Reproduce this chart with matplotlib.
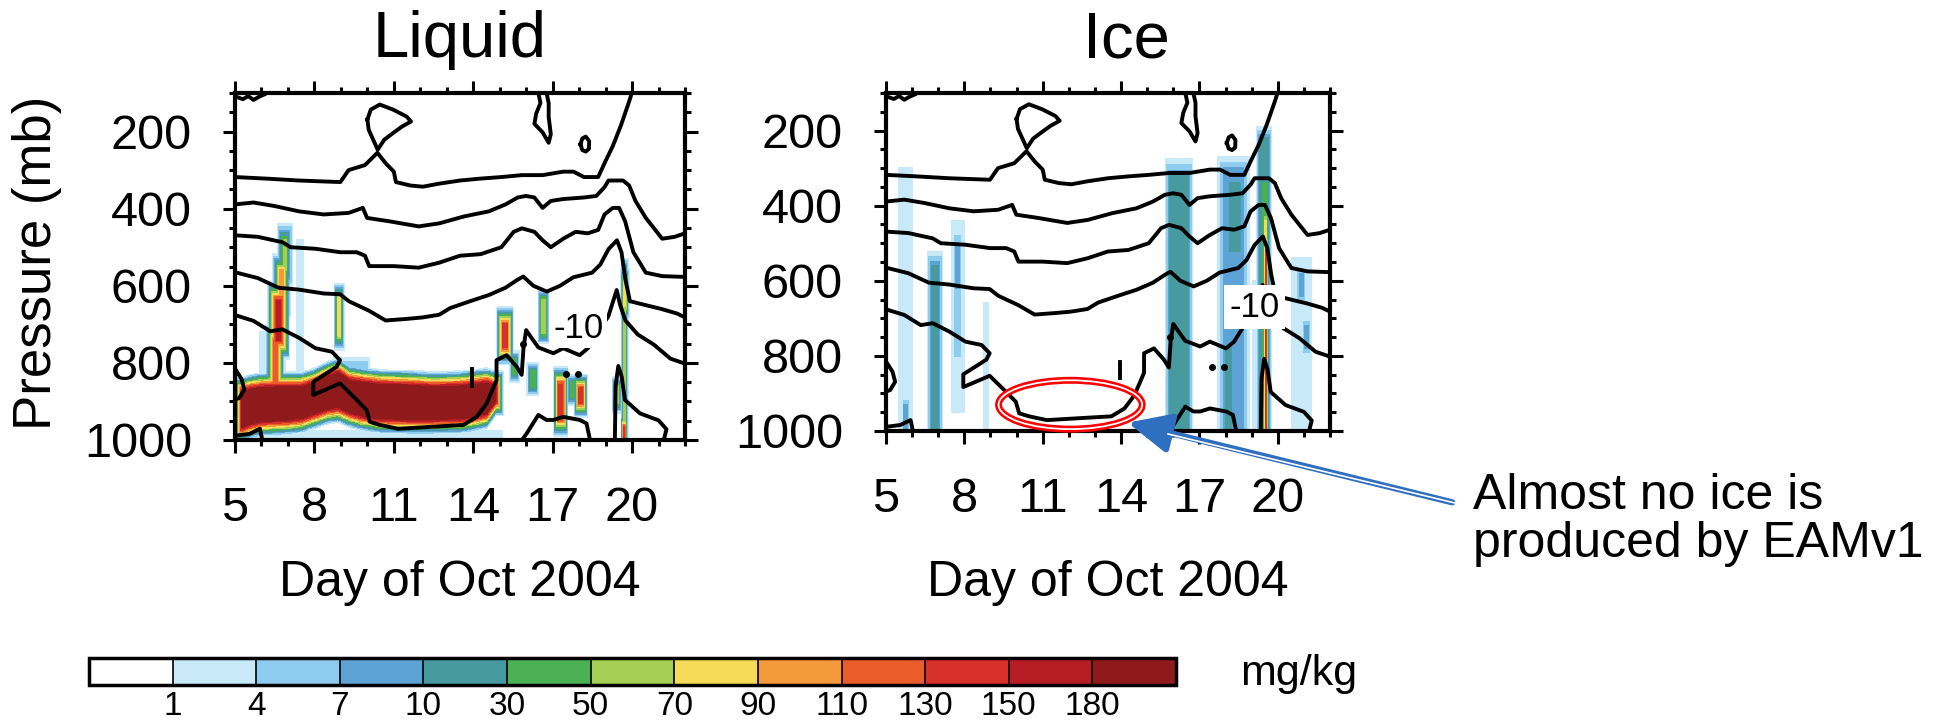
# Liquid / ice water content (EAMv1) vs pressure and day, with isotherms

import matplotlib.pyplot as plt
import numpy as np
from matplotlib import font_manager
from matplotlib.patches import Ellipse, FancyArrowPatch
from matplotlib.ticker import MultipleLocator
from matplotlib.lines import Line2D

plt.rcParams['font.family'] = ['Liberation Sans', 'DejaVu Sans']
installed = {f.name for f in font_manager.fontManager.ttflist}
tick_font = 'Liberation Sans Narrow' if 'Liberation Sans Narrow' in installed else 'Liberation Sans'

# colour classes (mg/kg)
levels = [0, 1, 4, 7, 10, 30, 50, 70, 90, 110, 130, 150, 180, 1000]
colors = ['#ffffff', '#c7e9f8', '#8fcdf0', '#5da3d6', '#479a9d', '#4bb051', '#a3cf55',
          '#f5db57', '#f39a3a', '#ea5c2a', '#d8302a', '#b81d25', '#8f1a1b']
tick_vals = [1, 4, 7, 10, 30, 50, 70, 90, 110, 130, 150, 180]

# one value per colour class, from the core outwards
ring_values = [200, 160, 140, 120, 100, 80, 60, 40, 20, 8, 5, 2]

# low stratocumulus deck in the liquid panel (core = >180 mg/kg)
deck_days = [5.25, 5.6, 6.0, 6.5, 7.0, 7.5, 8.0, 8.5, 8.9, 9.3, 9.8, 10.5, 11.5, 12.5, 13.5, 14.0, 14.5, 14.85]
deck_top = [876, 868, 864, 862, 862, 862, 852, 835, 825, 845, 850, 856, 858, 862, 860, 856, 852, 860]
deck_bot = [968, 958, 952, 950, 948, 944, 932, 920, 916, 928, 938, 945, 947, 947, 945, 940, 932, 898]

# other cloud features: (centre day, half width, p top, p bottom, core value, widen day, widen mb)
liquid_feats = [
    (6.88, 0.06, 480, 560, 60, 0.045, 8),
    (6.76, 0.07, 560, 640, 100, 0.04, 6),
    (6.64, 0.08, 640, 740, 160, 0.035, 5),
    (6.52, 0.08, 740, 860, 120, 0.035, 5),
    (7.45, 0.14, 480, 880, 2, 0, 0),
    (6.05, 0.10, 720, 990, 3, 0.04, 0),
    (8.93, 0.04, 630, 730, 80, 0.025, 6),
    (9.40, 0.60, 795, 830, 5, 0.08, 10),
    (10.2, 4.90, 975, 1000, 3, 0, 0),
    (15.20, 0.09, 700, 760, 140, 0.025, 5),
    (15.55, 0.07, 790, 830, 40, 0.03, 5),
    (16.25, 0.10, 820, 865, 40, 0.03, 5),
    (16.65, 0.05, 640, 720, 70, 0.025, 5),
    (17.30, 0.07, 860, 940, 150, 0.02, 5),
    (17.75, 0.05, 855, 885, 45, 0.03, 5),
    (18.05, 0.07, 865, 905, 140, 0.02, 4),
    (19.42, 0.03, 865, 900, 80, 0.025, 5),
    (19.72, 0.03, 560, 990, 60, 0.02, 6),
    (19.72, 0.02, 590, 650, 85, 0.02, 5),
    (19.70, 0.025, 965, 995, 140, 0.01, 3),
]

ice_feats = [
    (5.75, 0.27, 300, 1000, 2, 0, 0),
    (5.75, 0.08, 930, 1000, 8, 0.03, 10),
    (6.87, 0.12, 560, 1000, 20, 0.06, 12),
    (7.75, 0.25, 440, 950, 2, 0, 0),
    (7.73, 0.12, 480, 800, 5, 0.05, 10),
    (7.73, 0.05, 520, 610, 9, 0.04, 10),
    (8.82, 0.10, 660, 1000, 2, 0, 0),
    (16.22, 0.35, 320, 1000, 20, 0.06, 15),
    (18.30, 0.40, 300, 1000, 8, 0.10, 15),
    (18.35, 0.20, 340, 520, 15, 0.05, 10),
    (18.10, 0.10, 780, 1000, 15, 0.04, 10),
    (19.10, 0.06, 600, 1000, 2, 0, 0),
    (19.45, 0.17, 220, 1000, 20, 0.04, 10),
    (19.50, 0.08, 340, 1000, 40, 0.01, 10),
    (19.53, 0.04, 440, 1000, 75, 0.005, 10),
    (19.55, 0.02, 520, 1000, 140, 0.005, 10),
    (20.90, 0.40, 540, 1000, 2, 0, 0),
    (20.90, 0.08, 580, 640, 8, 0.05, 10),
    (21.10, 0.08, 720, 780, 8, 0.05, 10),
]

# temperature contours (day, pressure), identical in both panels
line_a = [(5.0, 318), (6.17, 322), (7.42, 327), (8.98, 331), (9.29, 300), (9.91, 287), (10.38, 255),
          (10.69, 282), (11.0, 304), (11.08, 331), (11.63, 340), (12.1, 343), (12.72, 335), (13.5, 327),
          (14.28, 322), (15.06, 318), (15.84, 313), (16.62, 313), (17.4, 304), (17.79, 304), (18.18, 318),
          (18.72, 318), (18.96, 282), (19.27, 238), (19.58, 184), (19.89, 122), (19.99, 100)]
line_b = [(5.0, 389), (5.7, 384), (6.48, 393), (7.42, 407), (8.35, 415), (9.29, 411), (9.83, 398),
          (9.99, 424), (10.85, 433), (11.94, 446), (12.72, 438), (13.66, 420), (14.59, 407), (15.22, 389),
          (15.68, 371), (15.99, 367), (16.31, 371), (16.62, 398), (16.93, 380), (17.4, 375), (18.18, 371),
          (18.65, 367), (18.96, 344), (19.11, 327), (19.66, 327), (19.89, 340), (20.13, 380), (20.52, 424),
          (21.14, 478), (21.61, 473), (22.0, 464)]
line_c = [(5.0, 469), (5.86, 473), (6.79, 487), (7.1, 500), (8.04, 504), (8.98, 513), (9.6, 513),
          (9.91, 522), (10.07, 549), (11.0, 549), (11.94, 553), (12.72, 540), (13.5, 522), (14.28, 518),
          (15.06, 500), (15.53, 460), (15.84, 451), (16.31, 460), (16.62, 482), (16.93, 500), (17.4, 478),
          (17.87, 460), (18.33, 464), (18.72, 455), (18.96, 415), (19.27, 398), (19.51, 398), (19.74, 433),
          (20.05, 513), (20.52, 566), (21.14, 575), (22.0, 577)]
line_d = [(5.0, 565), (5.86, 580), (6.64, 605), (7.42, 610), (8.35, 620), (8.97, 622), (9.3, 640),
          (10.07, 665), (10.69, 690), (11.47, 686), (12.1, 682), (12.72, 675), (13.12, 658), (13.97, 638),
          (14.59, 624), (15.22, 605), (15.68, 584), (15.89, 576), (16.27, 600), (16.78, 615), (17.28, 600),
          (17.78, 578), (18.49, 566), (18.8, 545), (19.11, 505), (19.43, 482), (19.6, 513), (19.75, 584),
          (19.92, 640), (20.5, 650), (21.1, 660), (21.7, 672), (22.0, 682)]
line_e = [(5.0, 676), (5.7, 691), (6.33, 718), (6.79, 713), (7.42, 735), (8.04, 762), (8.66, 771),
          (8.97, 793), (8.84, 810), (8.46, 827), (7.96, 849), (7.96, 883), (8.97, 853), (9.6, 896),
          (9.97, 922), (10.1, 953), (10.48, 961), (11.16, 971), (12.37, 966), (13.63, 961), (14.13, 940),
          (14.51, 905), (14.88, 845), (14.88, 793), (15.26, 780), (15.64, 810), (15.83, 831), (15.9, 760),
          (16.0, 715), (16.2, 735), (16.46, 760), (17.03, 775), (17.4, 762), (18.02, 780), (18.33, 762),
          (18.8, 709), (19.1, 680), (19.42, 611), (19.55, 650), (19.75, 690), (20.21, 726), (20.83, 753),
          (21.45, 789), (22.0, 802)]
loop_top1 = [(10.0, 169), (10.13, 143), (10.47, 130), (10.97, 143), (11.48, 161), (11.65, 174), (11.31, 187),
             (10.97, 204), (10.64, 221), (10.39, 247), (10.22, 221), (10.05, 195), (10.0, 169)]
loop_top2 = [(16.46, 100), (16.54, 126), (16.38, 153), (16.31, 180), (16.62, 202), (16.85, 229),
             (16.93, 207), (16.85, 162), (16.85, 126), (16.77, 100)]
loop_top3 = [(18.05, 233), (18.12, 218), (18.25, 213), (18.38, 225), (18.37, 245), (18.25, 252),
             (18.12, 248), (18.05, 233)]
squiggle_top = [(5.05, 110), (5.3, 116), (5.5, 108), (5.7, 118), (5.9, 110), (6.1, 104)]
bump_left = [(5.0, 815), (5.25, 842), (5.35, 869), (5.16, 891), (5.0, 895)]
corner_left = [(5.0, 989), (5.55, 984), (5.94, 971), (6.01, 993), (6.01, 1000)]
bottom_bump = [(15.84, 1000), (16.02, 983), (16.46, 935), (16.77, 948), (17.03, 948), (17.4, 940),
               (18.02, 948), (18.28, 957), (18.41, 1000)]
bottom_peak = [(19.35, 1000), (19.38, 860), (19.48, 808), (19.61, 836), (19.73, 896), (20.3, 931),
               (21.0, 949), (21.3, 972), (21.2, 1000)]
short_seg = [(13.97, 815), (13.97, 860)]
contour_lines = [line_a, line_b, line_c, line_d, line_e, loop_top1, loop_top2, loop_top3,
                 squiggle_top, bump_left, corner_left, bottom_bump, bottom_peak, short_seg]
dot_days = [15.87, 17.5, 17.95]
dot_p = [750, 830, 830]

day_grid = np.arange(5.0, 22.001, 0.02)
p_grid = np.arange(100.0, 1000.001, 2.0)
D, P = np.meshgrid(day_grid, p_grid)


def paint(field, feats):
    for c, hw, pt, pb, core, dx, dp in feats:
        vals = [core] + [v for v in ring_values if v < core]
        for k, v in enumerate(vals):
            inside = (np.abs(D - c) <= hw + k * dx) & (P >= pt - k * dp) & (P <= pb + k * dp)
            field[inside] = np.maximum(field[inside], v)


def paint_deck(field):
    top = np.interp(day_grid, deck_days, deck_top)[None, :]
    bot = np.interp(day_grid, deck_days, deck_bot)[None, :]
    for k, v in enumerate(ring_values):
        inside = ((D >= deck_days[0] - k * 0.02) & (D <= deck_days[-1] + k * 0.025)
                  & (P >= top - k * 3.5) & (P <= bot + k * 3.5))
        field[inside] = np.maximum(field[inside], v)


liquid = np.zeros_like(D)
paint_deck(liquid)
paint(liquid, liquid_feats)
ice = np.zeros_like(D)
paint(ice, ice_feats)

W, H = 1946, 723
fig = plt.figure(figsize=(W / 100, H / 100), dpi=100)


def box(x0, y0, x1, y1):
    return [x0 / W, 1 - y1 / H, (x1 - x0) / W, (y1 - y0) / H]


ax_l = fig.add_axes(box(235, 93, 685, 440))
ax_i = fig.add_axes(box(886, 93, 1330, 431))

for ax, field in [(ax_l, liquid), (ax_i, ice)]:
    cs = ax.contourf(D, P, field, levels=levels, colors=colors, zorder=1)
    for ln in contour_lines:
        ax.plot([q[0] for q in ln], [q[1] for q in ln], color='black', lw=2.8,
                solid_joinstyle='round', zorder=3)
    ax.plot(dot_days, dot_p, 'o', color='black', ms=4, zorder=3)
    ax.set_xlim(5, 22)
    ax.set_ylim(1000, 100)
    ax.set_xticks([5, 8, 11, 14, 17, 20])
    ax.set_yticks([200, 400, 600, 800, 1000])
    ax.xaxis.set_minor_locator(MultipleLocator(1))
    ax.yaxis.set_minor_locator(MultipleLocator(50))
    ax.tick_params(which='both', direction='out', top=True, right=True, width=2.2,
                   labelsize=35, labelfontfamily=tick_font)
    ax.tick_params(which='major', length=9)
    ax.tick_params(which='minor', length=4.5)
    ax.tick_params(axis='y', pad=22)
    ax.tick_params(axis='x', pad=24)
    for s in ax.spines.values():
        s.set_linewidth(3)
        s.set_zorder(5)

ax_l.text(18.0, 712, '-10', fontsize=25, ha='center', va='center', zorder=4, family=tick_font,
          bbox=dict(boxstyle='square,pad=0.08', fc='white', ec='none'))
ax_i.text(19.1, 670, '-10', fontsize=25, ha='center', va='center', zorder=4, family=tick_font,
          bbox=dict(boxstyle='square,pad=0.15', fc='white', ec='none'))

fig.text(460 / W, 1 - 40 / H, 'Liquid', fontsize=47, ha='center', va='center')
fig.text(1126 / W, 1 - 40 / H, 'Ice', fontsize=47, ha='center', va='center')
fig.text(37 / W, 1 - 263 / H, 'Pressure (mb)', fontsize=38, rotation=90, ha='center', va='center')
fig.text(460 / W, 1 - 583 / H, 'Day of Oct 2004', fontsize=36, ha='center', va='center')
fig.text(1108 / W, 1 - 583 / H, 'Day of Oct 2004', fontsize=36, ha='center', va='center')

# red circle and arrow
for ec, lw in [('red', 5), ('white', 1.3)]:
    ax_i.add_patch(Ellipse((12.06, 930), 5.5, 130, fill=False, ec=ec, lw=lw, clip_on=False, zorder=6))
fig.patches.append(FancyArrowPatch(
    (1455 / W, 1 - 503 / H), (1125 / W, 1 - 422 / H), transform=fig.transFigure,
    arrowstyle='-|>,head_length=13,head_width=6', color='#2f6fc0', lw=4.5, mutation_scale=2))
fig.lines.append(Line2D([1455 / W, 1168 / W], [1 - 503 / H, 1 - 434 / H], transform=fig.transFigure,
                        color='white', lw=1.2))
fig.text(1473 / W, 1 - 496 / H, 'Almost no ice is', fontsize=36, va='center')
fig.text(1473 / W, 1 - 544 / H, 'produced by EAMv1', fontsize=36, va='center')

# colour bar
cax = fig.add_axes(box(89, 658, 1176, 685))
cb = fig.colorbar(cs, cax=cax, orientation='horizontal', spacing='uniform', ticks=tick_vals, drawedges=True)
cb.set_ticklabels([str(v) for v in tick_vals])
cb.ax.tick_params(length=0, labelsize=24, pad=4, labelfontfamily=tick_font)
cb.outline.set_linewidth(2.5)
cb.dividers.set_linewidth(1.2)
fig.text(1240 / W, 1 - 674 / H, 'mg/kg', fontsize=31, va='center')

fig.savefig('out.png', dpi=100)
